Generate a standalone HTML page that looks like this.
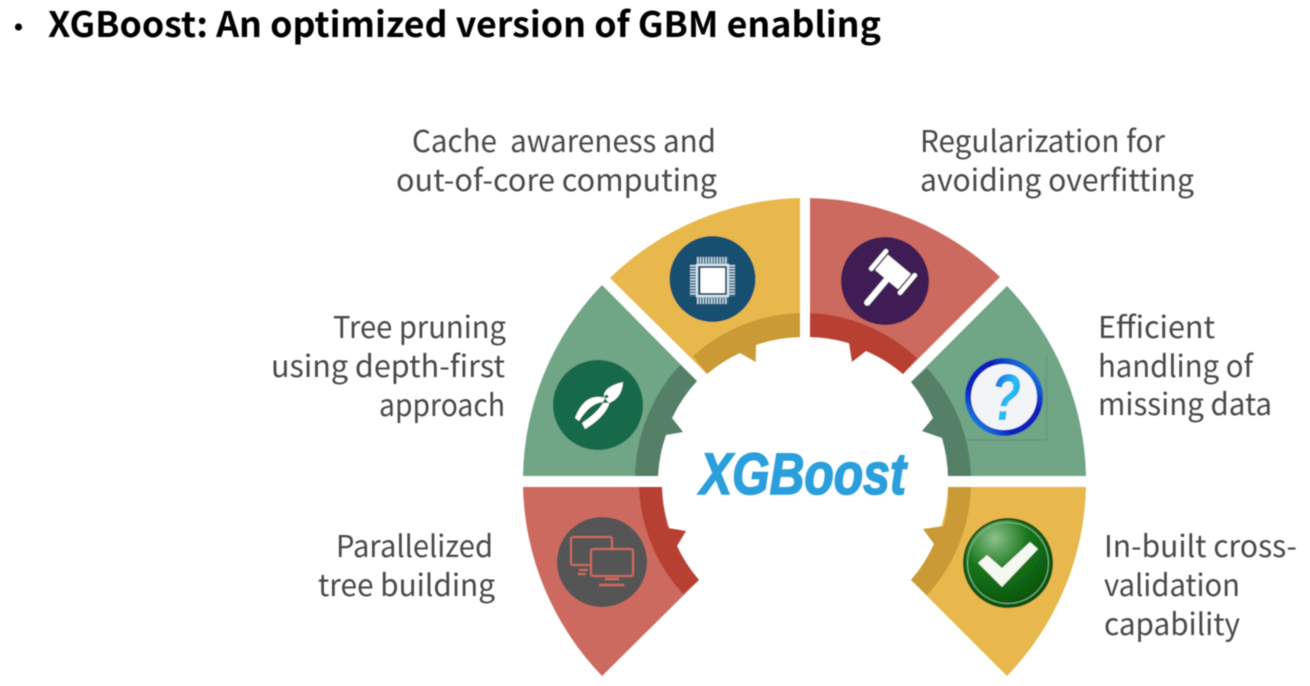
<!DOCTYPE html>
<html><head><meta charset="utf-8"><style>
html,body{margin:0;padding:0;background:#fff;width:1310px;height:686px;overflow:hidden}
svg{display:block}
.t{font-family:"Liberation Sans","Noto Sans CJK KR",sans-serif}
.b{font-family:"Noto Sans CJK KR","Liberation Sans",sans-serif;font-size:30px;fill:#484848}
.h{font-family:"Noto Sans CJK KR","Liberation Sans",sans-serif;font-size:35px;font-weight:700;fill:#000}
</style></head><body>
<svg width="1310" height="686" viewBox="0 0 1310 686" xmlns="http://www.w3.org/2000/svg">
<defs>
<radialGradient id="gc" cx="35%" cy="22%" r="85%"><stop offset="0" stop-color="#8cc08a"/><stop offset=".45" stop-color="#16751a"/><stop offset="1" stop-color="#0a4d0a"/></radialGradient>
<linearGradient id="qr" x1="1" y1="0" x2="0" y2="1"><stop offset="0" stop-color="#1fa8ee"/><stop offset=".35" stop-color="#0a1fb8"/><stop offset=".7" stop-color="#0a24c0"/><stop offset="1" stop-color="#22b4ee"/></linearGradient>
<linearGradient id="qm" x1="0" y1="0" x2="1" y2="1"><stop offset="0" stop-color="#0f45d8"/><stop offset=".55" stop-color="#28c0f4"/><stop offset="1" stop-color="#1270e4"/></linearGradient>
<filter id="s" x="-5%" y="-5%" width="110%" height="110%"><feGaussianBlur stdDeviation="0.55"/></filter>
</defs>

<g filter="url(#s)">
<circle cx="18.500" cy="27" r="3.600" fill="#000"/>
<text class="h" x="48" y="37" textLength="833" lengthAdjust="spacingAndGlyphs">XGBoost: An optimized version of GBM enabling</text>

<!-- segments -->
<path fill="#e8b84e" d="M800 198A282 282 0 0 0 610 278L707 374A144 144 0 0 1 800 337Z"/>
<path fill="#c99a35" d="M800 313A167 167 0 0 0 693 356L707 374A144 144 0 0 1 740 353L755.700 362L756 345A144 144 0 0 1 800 337Z"/>

<path fill="#cd6a60" d="M810 198A282 282 0 0 1 1000 277L903 374A144 144 0 0 0 810 337Z"/>
<path fill="#b83f30" d="M810 313A167 167 0 0 1 917 358L903 374A144 144 0 0 0 866 351L852 362L849 343A144 144 0 0 0 810 337Z"/>

<path fill="#6fa586" d="M523 476A282 282 0 0 1 602 285L697 381A147 147 0 0 0 658 476Z"/>
<path fill="#567f68" d="M635 476A170 170 0 0 1 680 365L697 381A147 147 0 0 0 672 418L683 432L666 435A147 147 0 0 0 658 476Z"/>

<path fill="#6fa586" d="M1086 476A282 282 0 0 0 1007 286L911 382A147 147 0 0 1 948 476Z"/>
<path fill="#567f68" d="M971 476A167 167 0 0 0 927 368L911 382A147 147 0 0 1 933 418L922 431L942 438A147 147 0 0 1 948 476Z"/>

<path fill="#cd6a60" d="M523 487A282 282 0 0 0 602 676L699 580A147 147 0 0 1 662 487Z"/>
<path fill="#b83f30" d="M639 487A167 167 0 0 0 683 594L699 580A147 147 0 0 1 677 546L686 531L668 528A147 147 0 0 1 662 487Z"/>

<path fill="#e8b84e" d="M1086 487A282 282 0 0 1 1007 676L911 580A147 147 0 0 0 948 487Z"/>
<path fill="#c99a35" d="M971 487A167 167 0 0 1 927 595L911 580A147 147 0 0 0 934 544L923 529L944 526A147 147 0 0 0 948 487Z"/>

<!-- chip -->
<circle cx="712.500" cy="279" r="43" fill="#17506f"/>
<g stroke="#c5d9e4" stroke-width="7" stroke-dasharray="1.500 1.300" fill="none">
<path d="M697 260.500H728M697 300.500H728M693.500 265V296M731.500 265V296"/>
</g>
<rect x="697" y="265" width="31" height="31" fill="none" stroke="#dce9f0" stroke-width="2"/>
<rect x="700.500" y="268" width="24.500" height="25" fill="#fff"/>

<!-- pliers -->
<circle cx="598" cy="405" r="45" fill="#17694a"/>
<g fill="#fff">
<path d="M623 382Q622 398 609 403L604 397Q603 387 623 382Z"/>
<path d="M605 398Q585 392 575 418L579 421Q590 403 603 402Z"/>
<path d="M609.500 403Q605 417 585 429L582 423Q597 413 603 403Z"/>
</g>
<circle cx="606.500" cy="396.500" r="1.800" fill="#17694a"/>

<!-- gavel -->
<circle cx="885" cy="281" r="44" fill="#3f1d55"/>
<g transform="rotate(40 893 272)" fill="#fff">
<rect x="878" y="262" width="30" height="20"/>
<rect x="872" y="258.500" width="4.500" height="27" rx="2"/>
<rect x="909.500" y="258.500" width="4.500" height="27" rx="2"/>
<rect x="890" y="278" width="6" height="37" rx="3"/>
</g>

<!-- question -->
<path d="M1046.700 356V440H966" fill="none" stroke="#5f8f76" stroke-width=".8"/>
<circle cx="1004" cy="397" r="36" fill="#f3f4f7" stroke="url(#qr)" stroke-width="6"/>
<text x="991" y="420" class="t" font-size="66" font-weight="700" font-style="italic" fill="url(#qm)" textLength="30" lengthAdjust="spacingAndGlyphs">?</text>

<!-- computers -->
<circle cx="602" cy="562" r="45" fill="#555"/>
<g fill="none" stroke="#cd6a60" stroke-width="2">
<rect x="571" y="537" width="41" height="28" rx="2"/>
<path d="M579 570h9M578 574h8"/>
<rect x="591" y="549" width="42" height="27" rx="2" fill="#555"/>
<path d="M605 579h14M599 585h25" stroke-width="2.500"/>
</g>

<!-- check -->
<circle cx="1008" cy="563" r="44" fill="url(#gc)" stroke="#0e4d12" stroke-width="2"/>
<circle cx="1008" cy="563" r="40.500" fill="none" stroke="#7fb98a" stroke-width="1"/>
<path d="M978 563L987 555L1002 568L1030 542L1038 549L1002 587Z" fill="#f4f8f1"/>

<!-- XGBoost -->
<text class="t" x="700" y="494" font-size="58" font-weight="700" font-style="italic" fill="#2a9fdc" stroke="#2a9fdc" stroke-width="1.600" textLength="206" lengthAdjust="spacingAndGlyphs">XGBoost</text>

<!-- labels -->
<text class="b" x="412" y="152" textLength="304" lengthAdjust="spacingAndGlyphs" xml:space="preserve">Cache  awareness and</text>
<text class="b" x="396" y="191" textLength="321" lengthAdjust="spacingAndGlyphs">out-of-core computing</text>
<text class="b" x="920" y="152" textLength="245" lengthAdjust="spacingAndGlyphs">Regularization for</text>
<text class="b" x="920" y="191" textLength="274" lengthAdjust="spacingAndGlyphs">avoiding overfitting</text>
<text class="b" x="333" y="338" textLength="173" lengthAdjust="spacingAndGlyphs">Tree pruning</text>
<text class="b" x="271" y="377" textLength="234" lengthAdjust="spacingAndGlyphs">using depth-first</text>
<text class="b" x="379" y="416" textLength="126" lengthAdjust="spacingAndGlyphs">approach</text>
<text class="b" x="1098" y="338" textLength="117" lengthAdjust="spacingAndGlyphs">Efficient</text>
<text class="b" x="1098" y="377" textLength="155" lengthAdjust="spacingAndGlyphs">handling of</text>
<text class="b" x="1098" y="415" textLength="174" lengthAdjust="spacingAndGlyphs">missing data</text>
<text class="b" x="336" y="557" textLength="157" lengthAdjust="spacingAndGlyphs">Parallelized</text>
<text class="b" x="318" y="596" textLength="177" lengthAdjust="spacingAndGlyphs">tree building</text>
<text class="b" x="1104" y="557" textLength="193" lengthAdjust="spacingAndGlyphs">In-built cross-</text>
<text class="b" x="1104" y="596" textLength="136" lengthAdjust="spacingAndGlyphs">validation</text>
<text class="b" x="1104" y="635" textLength="136" lengthAdjust="spacingAndGlyphs">capability</text>
</g>
</svg>
</body></html>
